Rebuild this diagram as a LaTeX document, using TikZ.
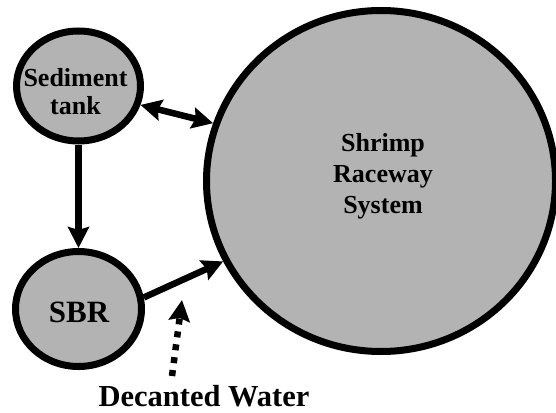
\documentclass[tikz,border=0pt]{standalone}
\usepackage{fontspec}
\setmainfont{Liberation Serif}[BoldFont={Liberation Serif Bold}]
\newfontfamily\lblfont{Liberation Serif Bold}
\usetikzlibrary{shapes.geometric,arrows.meta}
\definecolor{fillg}{RGB}{179,179,179}
\begin{document}
\begin{tikzpicture}[x=1pt,y=-1pt,
  tank/.style={ellipse,draw=black,fill=fillg,line width=7pt,inner sep=0pt},
  lbl/.style={align=center,inner sep=0pt,anchor=center},
  flow/.style={line width=6.5pt,-{Stealth[length=21pt,width=21pt,inset=3pt]}},
  ]
\useasboundingbox (0,0) rectangle (556,412);
\node[tank,minimum width=349pt,minimum height=341pt] (big) at (381,181) {};
\node[tank,minimum width=124pt,minimum height=110pt] (sed) at (78.5,86) {};
\node[tank,minimum width=126pt,minimum height=115pt] (sbr) at (78.5,309) {};
\node[lbl,font=\lblfont\fontsize{26}{31}\selectfont] (bigtxt) at (383,176) {Shrimp\\Raceway\\System};
\node[lbl,font=\lblfont\fontsize{26}{28}\selectfont] (sedtxt) at (75.5,92) {Sediment\\tank};
\node[lbl,font=\lblfont\fontsize{31}{33}\selectfont] (sbrtxt) at (79,312) {SBR};
\node[lbl,font=\lblfont\fontsize{30.5}{33}\selectfont] (dwtxt) at (204,396.5) {Decanted Water};
\draw[line width=6.5pt,{Stealth[length=21pt,width=21pt,inset=3pt]}-{Stealth[length=21pt,width=21pt,inset=3pt]}] (sed.-17) -- (big.161);
\draw[flow] (sed.south) -- (sbr.north);
\draw[flow] (sbr.10) -- (big.207);
\coordinate (dwtail) at (172,376);
\coordinate (dwtip) at (182,300);
\draw[flow,dash pattern=on 6pt off 7pt] (dwtail) -- (dwtip);
\end{tikzpicture}
\end{document}
